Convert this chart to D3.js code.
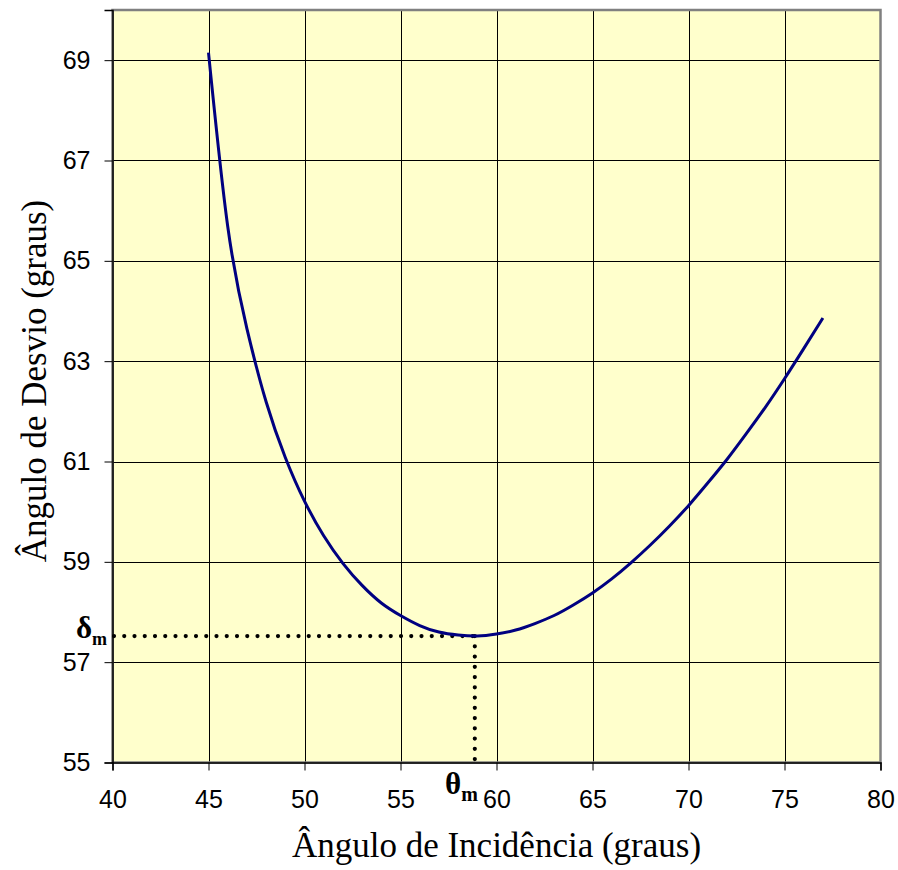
<!DOCTYPE html>
<html>
<head>
<meta charset="utf-8">
<script src="https://cdn.jsdelivr.net/npm/d3@7"></script>
<style>
  html, body { margin: 0; padding: 0; background: #ffffff; }
  svg { display: block; }
</style>
</head>
<body>
<svg id="chart" width="898" height="870"></svg>
<script>
// ---- data ----
const incidence = [45, 46, 47, 48, 49, 50, 51, 52, 53, 54, 55, 56, 57, 58, 59, 60, 61,
                   62, 63, 64, 65, 66, 67, 68, 69, 70, 71, 72, 73, 74, 75, 76, 77];
const deviation = [69.15, 65.69, 63.65, 62.19, 61.08, 60.21, 59.52, 58.97, 58.53, 58.18,
                   57.93, 57.73, 57.60, 57.54, 57.52, 57.56, 57.64, 57.77, 57.93, 58.14,
                   58.38, 58.66, 58.98, 59.33, 59.71, 60.12, 60.57, 61.04, 61.55, 62.08,
                   62.65, 63.25, 63.86];
const xTicks = [40, 45, 50, 55, 60, 65, 70, 75, 80];
const yTicks = [55, 57, 59, 61, 63, 65, 67, 69];
const thetaMin = 58.87;   // θm
const deltaMin = 57.52;   // δm
const xTitle = "Ângulo de Incidência (graus)";
const yTitle = "Ângulo de Desvio (graus)";

// ---- layout ----
const W = 898, H = 870;
const margin = { left: 112.5, right: 17.5, top: 10, bottom: 107.5 };
const pw = W - margin.left - margin.right;
const ph = H - margin.top - margin.bottom;

const svg = d3.select("#chart");
const g = svg.append("g").attr("transform", `translate(${margin.left},${margin.top})`);

const x = d3.scaleLinear().domain([40, 80]).range([0, pw]);
const y = d3.scaleLinear().domain([55, 70]).range([ph, 0]);

// plot background
g.append("rect").attr("x", 0).attr("y", 0).attr("width", pw).attr("height", ph)
  .attr("fill", "#FFFFCC");

// grid
g.append("g").selectAll("line").data(xTicks.filter(d => d > 40 && d < 80)).join("line")
  .attr("x1", d => Math.round(x(d)) + 0.5).attr("x2", d => Math.round(x(d)) + 0.5)
  .attr("y1", 0).attr("y2", ph)
  .attr("stroke", "#000").attr("stroke-width", 1).attr("shape-rendering", "crispEdges");
g.append("g").selectAll("line").data(yTicks.filter(d => d > 55)).join("line")
  .attr("x1", 0).attr("x2", pw)
  .attr("y1", d => Math.round(y(d)) + 0.5).attr("y2", d => Math.round(y(d)) + 0.5)
  .attr("stroke", "#000").attr("stroke-width", 1).attr("shape-rendering", "crispEdges");

// plot border (gray)
g.append("rect").attr("x", 0).attr("y", 0).attr("width", pw).attr("height", ph)
  .attr("fill", "none").attr("stroke", "#808080").attr("stroke-width", 2.5);

// axes
const xAxis = d3.axisBottom(x).tickValues(xTicks).tickSize(8).tickPadding(20)
  .tickFormat(d3.format("d"));
const yAxis = d3.axisLeft(y).tickValues(yTicks).tickSize(8).tickPadding(14)
  .tickFormat(d3.format("d"));

const gx = g.append("g").attr("transform", `translate(0,${ph})`).call(xAxis);
const gy = g.append("g").call(yAxis);
[gx, gy].forEach(a => {
  a.select(".domain").attr("stroke", "#000").attr("stroke-width", 1.5);
  a.selectAll(".tick line").attr("stroke", "#000").attr("stroke-width", 1);
  a.selectAll(".tick text").attr("font-family", "'Liberation Sans', Arial, sans-serif")
    .attr("font-size", 25).attr("fill", "#000");
});
gx.selectAll(".tick text").attr("dy", "0.71em");

// dotted min lines
const dotStyle = sel => sel.attr("stroke", "#000").attr("stroke-width", 4.2)
  .attr("stroke-linecap", "round").attr("stroke-dasharray", "0,10.25").attr("fill", "none");
g.append("line").attr("x1", 1.5).attr("x2", x(thetaMin))
  .attr("y1", y(deltaMin)).attr("y2", y(deltaMin)).call(dotStyle);
g.append("line").attr("x1", x(thetaMin)).attr("x2", x(thetaMin))
  .attr("y1", y(deltaMin)).attr("y2", ph - 3).call(dotStyle);

// curve
const line = d3.line().x((d, i) => x(incidence[i])).y(d => y(d)).curve(d3.curveNatural);
g.append("path").datum(deviation).attr("d", line)
  .attr("fill", "none").attr("stroke", "#000080").attr("stroke-width", 3)
  .attr("stroke-linejoin", "round");

// δm label
const serif = "'Liberation Serif', 'Times New Roman', serif";
const dl = svg.append("text").attr("x", 76).attr("y", 638)
  .attr("font-family", serif).attr("font-weight", "bold").attr("font-size", 31).attr("fill", "#000");
dl.append("tspan").text("δ");
dl.append("tspan").attr("font-size", 18).attr("dy", 7).text("m");

// θm label
const tl = svg.append("text").attr("x", 445).attr("y", 794)
  .attr("font-family", serif).attr("font-weight", "bold").attr("font-size", 31).attr("fill", "#000");
tl.append("tspan").text("θ");
tl.append("tspan").attr("font-size", 20).attr("dy", 7).text("m");

// axis titles
svg.append("text").attr("x", margin.left + pw / 2 + 0).attr("y", 857)
  .attr("text-anchor", "middle").attr("font-family", serif).attr("font-size", 35)
  .attr("fill", "#000").text(xTitle);
svg.append("text").attr("transform", `translate(46,${381}) rotate(-90)`)
  .attr("text-anchor", "middle").attr("font-family", serif).attr("font-size", 35)
  .attr("fill", "#000").text(yTitle);
</script>
</body>
</html>
